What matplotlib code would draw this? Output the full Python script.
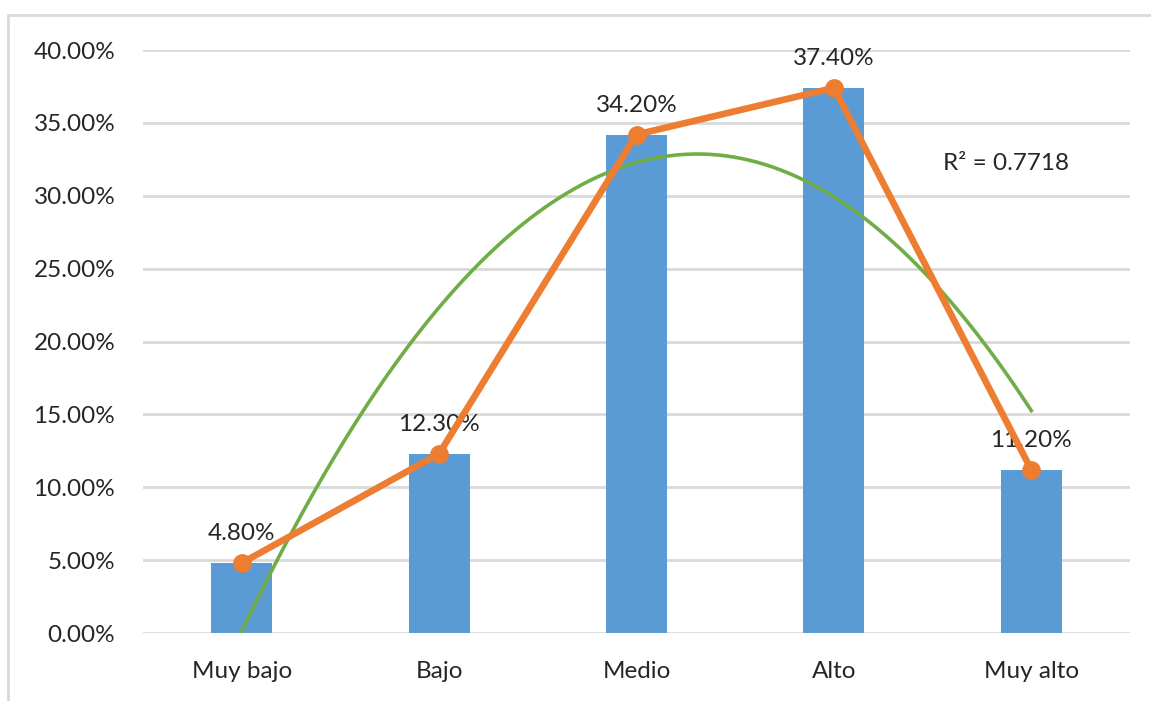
import matplotlib
matplotlib.use("Agg")
import matplotlib.pyplot as plt
import numpy as np
from matplotlib.patches import Rectangle
from matplotlib.ticker import FuncFormatter

categories = ['Muy bajo', 'Bajo', 'Medio', 'Alto', 'Muy alto']
values = [4.8, 12.3, 34.2, 37.4, 11.2]   # percent
yticks = [0, 5, 10, 15, 20, 25, 30, 35, 40]

bar_color = '#5b9bd5'
line_color = '#ed7d31'
trend_color = '#70ad47'
grid_color = '#d9d9d9'
text_color = '#262626'

plt.rcParams['font.family'] = ['Lato', 'DejaVu Sans']

fig = plt.figure(figsize=(11.51, 7.01), dpi=100)
fig.patch.set_facecolor('white')
# outer chart frame
fig.add_artist(Rectangle((8 / 1151, -0.1), 1.2, 1 - 15 / 701 + 0.1,
                         transform=fig.transFigure, fill=False,
                         edgecolor=grid_color, linewidth=2))

ax = fig.add_axes([143 / 1151, 1 - 633 / 701, (1130 - 143) / 1151, (633 - 50) / 701])
x = np.arange(len(categories))
vals = np.array(values)

ax.bar(x, vals, width=0.31, color=bar_color, zorder=2)

# second order polynomial trend
coef = np.polyfit(x, vals, 2)
xs = np.linspace(0, len(categories) - 1, 200)
ax.plot(xs, np.polyval(coef, xs), color=trend_color, linewidth=2.6, zorder=3)
fitted = np.polyval(coef, x)
r2 = 1 - np.sum((vals - fitted) ** 2) / np.sum((vals - vals.mean()) ** 2)

ax.plot(x, vals, color=line_color, linewidth=4.8, marker='o', markersize=12.5,
        zorder=4, clip_on=False)

for xi, v in zip(x, vals):
    ax.annotate(f'{v:.2f}%', (xi, v), xytext=(0, 21), textcoords='offset points',
                ha='center', va='center', fontsize=17.5, color=text_color,
                annotation_clip=False)

ax.text(3.87, 32.2, f'R² = {r2:.4f}', ha='center', va='center',
        fontsize=17.5, color=text_color)

ax.set_xlim(-0.5, len(categories) - 0.5)
ax.set_ylim(0, 40)
ax.set_yticks(yticks)
ax.yaxis.set_major_formatter(FuncFormatter(lambda v, p: f'{v:.2f}%'))
ax.set_xticks(x)
ax.set_xticklabels(categories)
ax.tick_params(axis='both', length=0, labelsize=17.5, colors=text_color)
ax.tick_params(axis='x', pad=20)
ax.tick_params(axis='y', pad=20)
ax.grid(axis='y', color=grid_color, linewidth=2, zorder=0)
ax.set_axisbelow(True)
for s in ax.spines.values():
    s.set_visible(False)

fig.savefig('out.png', dpi=100)
